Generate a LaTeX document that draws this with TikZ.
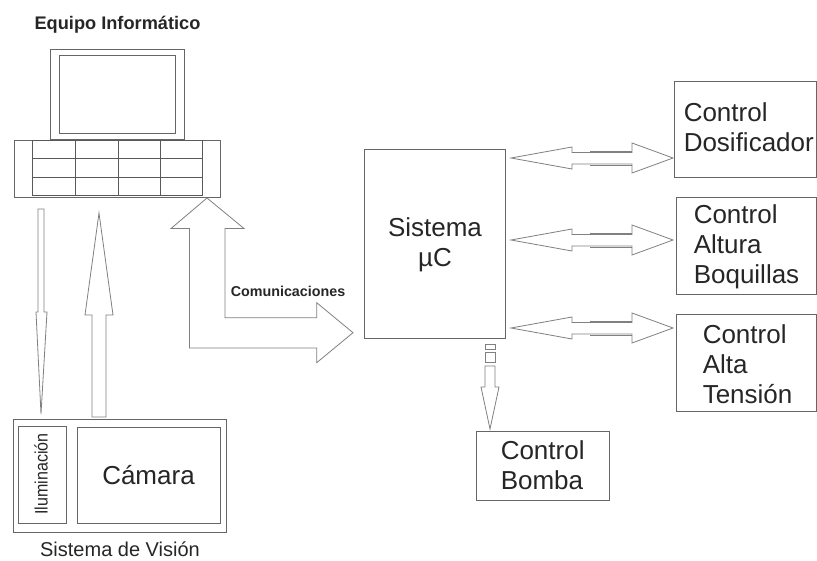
\documentclass[tikz,border=0pt]{standalone}
\usepackage{fontspec}
\setmainfont{Liberation Sans}
\usetikzlibrary{positioning}

\begin{document}
\begin{tikzpicture}[
    x=1pt, y=-1pt,
    % Style definitions
    box/.style={draw=black!60, line width=0.9pt, fill=white, inner sep=0pt},
    keyline/.style={draw=black!65, line width=0.9pt},
    blockarrow/.style={draw=black!50, line width=0.8pt, fill=white, line join=miter},
    bigtext/.style={font=\fontsize{26}{30}\selectfont, text=black!85, inner sep=0pt, align=left},
    captiontext/.style={font=\fontsize{20}{24}\selectfont, text=black!85, inner sep=0pt}
]
\useasboundingbox (0,0) rectangle (817,561);

% Computer
\node[captiontext, font=\fontsize{18.2}{24}\selectfont\bfseries] (equipo) at (117.5, 24.5) {Equipo Informático};
\node[box, minimum width=134pt, minimum height=90pt] (monitor) at (117, 94) {};
\node[box, minimum width=116pt, minimum height=78pt] (screen) at (117, 94) {};
\node[box, minimum width=206pt, minimum height=57.5pt] (keyboard) at (117, 168.75) {};
\foreach \x/\xx in {32/75, 75/118, 118/160, 160/202}
    \foreach \y/\yy in {140/158.5, 158.5/177, 177/195}
        \draw[keyline] (\x, \y) rectangle (\xx, \yy);

% Vision system
\node[box, minimum width=213pt, minimum height=113pt] (vision) at (119.5, 475.5) {};
\node[box, minimum width=48pt, minimum height=97pt] (ilum) at (42, 475) {};
\node[box, minimum width=143pt, minimum height=96pt] (camara) at (148.5, 475) {};
\node[captiontext, font=\fontsize{18}{20}\selectfont, rotate=90, xscale=0.89] at (41, 474) {Iluminación};
\node[bigtext] at (camara.center) {Cámara};
\node[captiontext] (visiontext) at (120, 549.5) {Sistema de Visión};

% Microcontroller and control boxes
\node[box, minimum width=141pt, minimum height=189pt] (micro) at (434.5, 243.5) {};
\node[bigtext, align=center] at (435, 245) {Sistema\\µC};
\node[box, minimum width=142pt, minimum height=96pt] (dosif) at (745, 129) {};
\node[box, minimum width=140pt, minimum height=97pt] (altura) at (746, 245.5) {};
\node[box, minimum width=140pt, minimum height=97pt] (tension) at (746, 362.5) {};
\node[box, minimum width=133pt, minimum height=69pt] (bomba) at (542.5, 465.5) {};
\node[bigtext, right=10pt of dosif.west, yshift=1.5pt] {Control\\Dosificador};
\node[bigtext, right=18pt of altura.west, yshift=-1.5pt] {Control\\Altura\\Boquillas};
\node[bigtext, right=27pt of tension.west, yshift=-1.5pt] {Control\\Alta\\Tensión};
\node[bigtext, right=25pt of bomba.west] {Control\\Bomba};

% Block arrows
\draw[blockarrow] (38, 209) -- (44, 209) -- (44, 312) -- (47, 312) -- (41, 414) -- (36, 312) -- (38, 312) -- cycle;
\draw[blockarrow] (92, 417) -- (92, 315) -- (85, 315) -- (99, 213) -- (113, 315) -- (106, 315) -- (106, 417) -- cycle;
\draw[blockarrow] (207, 198) -- (244, 228.5) -- (225, 228.5) -- (225, 317.7) -- (316.7, 317.7) -- (316.7, 302.7)
    -- (353, 332.7) -- (316.7, 362.7) -- (316.7, 348) -- (189.5, 348) -- (189.5, 228.5) -- (171, 228.5) -- cycle;
\node[captiontext, font=\fontsize{14.3}{18}\selectfont\bfseries] (comm) at (288, 291) {Comunicaciones};

\foreach \y in {158, 240, 328} {
    \draw[blockarrow] (511, \y) -- (572, \y-11) -- (572, \y-5.5) -- (632, \y-5.5) -- (632, \y-15) -- (673, \y)
        -- (632, \y+15) -- (632, \y+6) -- (572, \y+6) -- (572, \y+11) -- cycle;
    \draw[blockarrow] (590, \y-7) -- (632, \y-7);
    \draw[blockarrow] (590, \y+7) -- (632, \y+7);
}

\draw[blockarrow] (485, 344) rectangle (495, 349);
\draw[blockarrow] (485, 352) rectangle (495, 362);
\draw[blockarrow] (485, 366) -- (495, 366) -- (495, 387) -- (499, 387) -- (490, 429) -- (481, 387) -- (485, 387) -- cycle;

\end{tikzpicture}
\end{document}
